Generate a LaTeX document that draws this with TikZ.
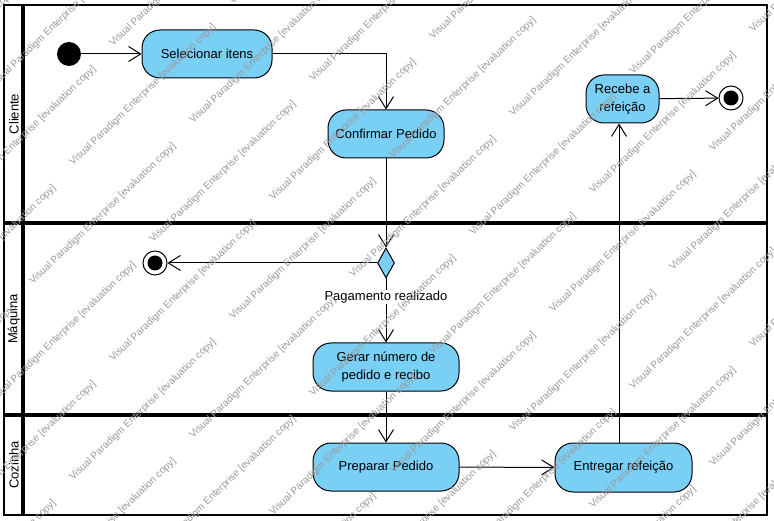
\documentclass[tikz,border=0pt]{standalone}
\usepackage{fontspec}
\setmainfont{Liberation Sans}
\usetikzlibrary{shapes.geometric,arrows.meta}
\definecolor{actfill}{HTML}{7ACFF5}
\definecolor{wmark}{HTML}{9A9A9A}
\tikzset{
  act/.style={draw=black, line width=1pt, fill=actfill, rounded corners=18pt, inner sep=0pt,
    minimum height=48pt, align=center, font=\fontsize{13}{17.5}\selectfont},
  arr/.style={line width=1pt, -{Straight Barb[length=12pt,width=15pt,line width=1pt]}},
  ln/.style={line width=1pt},
  lanelbl/.style={rotate=90, font=\fontsize{13}{15}\selectfont},
  initnode/.style={circle, fill=black, minimum size=24pt, inner sep=0pt},
  finout/.style={circle, draw=black, line width=1pt, fill=white, minimum size=24pt, inner sep=0pt},
  finin/.style={circle, fill=black, minimum size=15pt, inner sep=0pt},
  decision/.style={diamond, draw=black, line width=1pt, fill=actfill, minimum width=17pt, minimum height=30pt, inner sep=0pt},
  wm/.style={anchor=base west, rotate=44, text=wmark, font=\fontsize{10}{12}\selectfont, inner sep=0pt},
  guard/.style={fill=white, inner sep=1pt, font=\fontsize{13}{15}\selectfont}
}
\begin{document}
\begin{tikzpicture}[x=1pt,y=-1pt]
\useasboundingbox (0,0) rectangle (774,521);
\fill[white] (0,0) rectangle (774,521);
% swimlane frame
\draw[line width=2pt] (4,5) rectangle (767,515);
\draw[line width=3.5pt] (23,5) -- (23,515);
\draw[line width=3.5pt] (4,223) -- (767,223);
\draw[line width=3.5pt] (4,415) -- (767,415);
\node[lanelbl] (lc) at (14,114) {Cliente};
\node[lanelbl] (lm) at (14,319) {Máquina};
\node[lanelbl] (lz) at (14,465) {Cozinha};
% nodes
\node[initnode] (init) at (69,54) {};
\node[act, minimum width=130pt] (sel) at (207,54) {Selecionar itens};
\node[act, minimum width=116pt] (conf) at (386,134) {Confirmar Pedido};
\node[decision] (dia) at (386,263) {};
\node[finout] (fin1) at (155,263) {};
\node[finin] (fin1i) at (155,263) {};
\node[act, minimum width=146pt] (ger) at (386,367) {Gerar número de\\pedido e recibo};
\node[act, minimum width=146pt] (prep) at (386,467) {Preparar Pedido};
\node[act, minimum width=137pt, minimum height=49pt] (ent) at (623.5,467.5) {Entregar refeição};
\node[act, minimum width=73pt] (rec) at (622.5,99) {Recebe a\\refeição};
\node[finout] (fin2) at (731,98) {};
\node[finin] (fin2i) at (731,98) {};
\coordinate (lnk) at (619,0);
% edges
\draw[arr] (init) -- (sel);
\draw[arr] (sel.east) -| (conf.north);
\draw[arr] (conf) -- (dia);
\draw[arr] (dia) -- (fin1);
\draw[arr] (dia) -- (ger);
\node[guard] (g1) at (386,297) {Pagamento realizado};
\draw[arr] (ger) -- (prep);
\draw[arr] (prep) -- (ent);
\draw[arr] (ent.north -| lnk) -- (rec.south -| lnk);
\draw[arr] (rec) -- (fin2);
% watermark
\begin{scope}
\clip (0,0) rectangle (774,521);
\foreach \m in {-7,...,7}{
  \foreach \n in {-7,...,7}{
    \pgfmathsetmacro\wx{553+120*\m+80*\n}
    \pgfmathsetmacro\wy{313-42*\m+77*\n}
    \node[wm] (w\m\n) at (\wx,\wy) {Visual Paradigm Enterprise [evaluation copy]};
  }
}
\end{scope}
\end{tikzpicture}
\end{document}
